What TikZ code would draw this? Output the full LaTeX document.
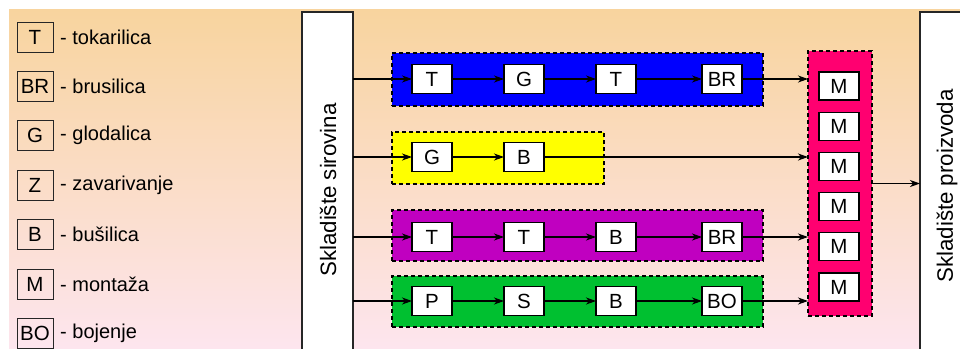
\documentclass[tikz,border=0pt]{standalone}
\usepackage{fontspec}
\setmainfont{Liberation Sans}
\usetikzlibrary{arrows.meta}
\definecolor{bgtop}{RGB}{248,212,158}
\definecolor{bgbot}{RGB}{253,229,238}
\definecolor{cblue}{RGB}{0,0,255}
\definecolor{cyellow}{RGB}{255,255,0}
\definecolor{cpurple}{RGB}{192,0,192}
\definecolor{cgreen}{RGB}{0,192,48}
\definecolor{cpink}{RGB}{255,0,112}
\tikzset{
  mach/.style={draw=black, fill=white, line width=1.2pt, minimum width=40pt, minimum height=29pt, inner sep=0pt, outer sep=0pt, font=\fontsize{20.5}{20}\selectfont},
  leg/.style={draw=black!85, line width=1pt, minimum width=36pt, minimum height=30pt, inner sep=0pt, font=\fontsize{20.5}{20}\selectfont},
  legtext/.style={anchor=west, inner sep=0pt, font=\fontsize{20}{20}\selectfont},
  grp/.style={draw=black, line width=1.2pt, dash pattern=on 4pt off 3pt, inner sep=0pt, outer sep=0pt},
  store/.style={draw=black!85, fill=white, line width=1.5pt, inner sep=0pt, outer sep=0pt, minimum width=51pt, minimum height=340pt},
  storetext/.style={rotate=90, font=\fontsize{22.3}{22}\selectfont},
  flow/.style={-{Stealth[length=10pt,width=7pt,inset=3pt]}, line width=1.1pt}
}
\begin{document}
\begin{tikzpicture}[x=1pt,y=-1pt]
\useasboundingbox (0,0) rectangle (960,348);
\shade[top color=bgtop, bottom color=bgbot] (9,9) rectangle (960,348);

% legend
\foreach \lab/\txt [count=\i from 0] in {T/tokarilica, BR/brusilica, G/glodalica, Z/zavarivanje, B/bušilica, M/montaža, BO/bojenje}{
  \node[leg] (leg\i) at (35,37+49.4*\i) {\lab};
  \node[legtext] (legt\i) at (60,37+49.4*\i) {- \txt};
}

% storages
\node[store] (sir) at (327.5,182) {};
\node[storetext] (sirt) at (328,190) {Skladište sirovina};
\node[store, minimum width=55pt] (pro) at (947.5,182) {};
\node[storetext] (prot) at (947,186) {Skladište proizvoda};

% groups
\node[grp, fill=cblue, minimum width=371pt, minimum height=53pt] (gb) at (577.5,79.5) {};
\node[grp, fill=cyellow, minimum width=212pt, minimum height=52pt] (gy) at (498,158) {};
\node[grp, fill=cpurple, minimum width=371pt, minimum height=51pt] (gp) at (577.5,235.5) {};
\node[grp, fill=cgreen, minimum width=371pt, minimum height=51pt] (gg) at (577.5,301.5) {};
\node[grp, fill=cpink, minimum width=64pt, minimum height=265pt] (gm) at (840,183.5) {};

% row 1
\node[mach] (a1) at (432,79) {T};
\node[mach] (a2) at (524,79) {G};
\node[mach] (a3) at (616,79) {T};
\node[mach] (a4) at (722,79) {BR};
% row 2
\node[mach] (b1) at (432,157) {G};
\node[mach] (b2) at (524,157) {B};
% row 3
\node[mach] (c1) at (432,237) {T};
\node[mach] (c2) at (524,237) {T};
\node[mach] (c3) at (616,237) {B};
\node[mach] (c4) at (722,237) {BR};
% row 4
\node[mach] (d1) at (432,301) {P};
\node[mach] (d2) at (524,301) {S};
\node[mach] (d3) at (616,301) {B};
\node[mach] (d4) at (722,301) {BO};
% assembly
\foreach \i in {0,...,5}{
  \node[mach, minimum height=28pt] (m\i) at (839,86+40.2*\i) {M};
}

% connectors
\draw[flow] (sir.east |- a1.west) -- (a1.west);
\draw[flow] (a1) -- (a2);
\draw[flow] (a2) -- (a3);
\draw[flow] (a3) -- (a4);
\draw[flow] (a4.east) -- (gm.west |- a4.east);

\draw[flow] (sir.east |- b1.west) -- (b1.west);
\draw[flow] (b1) -- (b2);
\draw[flow] (b2.east) -- (gm.west |- b2.east);

\draw[flow] (sir.east |- c1.west) -- (c1.west);
\draw[flow] (c1) -- (c2);
\draw[flow] (c2) -- (c3);
\draw[flow] (c3) -- (c4);
\draw[flow] (c4.east) -- (gm.west |- c4.east);

\draw[flow] (sir.east |- d1.west) -- (d1.west);
\draw[flow] (d1) -- (d2);
\draw[flow] (d2) -- (d3);
\draw[flow] (d3) -- (d4);
\draw[flow] (d4.east) -- (gm.west |- d4.east);

\draw[flow] (gm.east) -- (pro.west |- gm.east);
\end{tikzpicture}
\end{document}
